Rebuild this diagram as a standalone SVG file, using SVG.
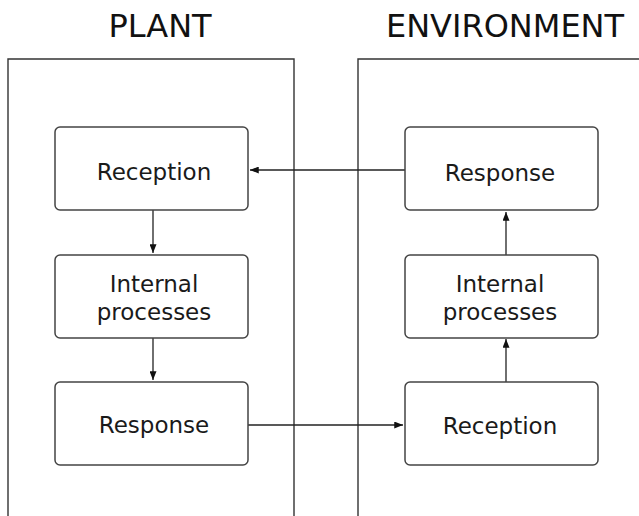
<svg xmlns="http://www.w3.org/2000/svg" width="639" height="516" viewBox="0 0 639 516">
<style>
.panel{fill:none;stroke:#333;stroke-width:1.4}
.box{fill:#fff;stroke:#444;stroke-width:1.5}
.t{font-family:"DejaVu Sans",Verdana,sans-serif;font-size:23px;fill:#1a1a1a;text-anchor:middle}
.h{font-family:"DejaVu Sans",Verdana,sans-serif;font-size:32px;fill:#111;text-anchor:middle}
.c{fill:none;stroke:#222;stroke-width:1.3}
</style>
<defs>
<marker id="ah" viewBox="0 0 10 8" refX="10" refY="4" markerWidth="9" markerHeight="7" markerUnits="userSpaceOnUse" orient="auto">
<path d="M0,0 L10,4 L0,8 Z" fill="#111"/>
</marker>
</defs>
<rect width="639" height="516" fill="#fff"/>
<g id="plant-panel">
<text class="h" x="160" y="37">PLANT</text>
<path class="panel" d="M8,520 V59 H294 V520"/>
</g>
<g id="environment-panel">
<text class="h" x="505" y="37">ENVIRONMENT</text>
<path class="panel" d="M358,520 V59 H645"/>
</g>
<g id="connectors">
<line class="c" x1="405" y1="170" x2="250" y2="170" marker-end="url(#ah)"/>
<line class="c" x1="248" y1="425" x2="403" y2="425" marker-end="url(#ah)"/>
<line class="c" x1="153" y1="210" x2="153" y2="253" marker-end="url(#ah)"/>
<line class="c" x1="153" y1="337" x2="153" y2="380" marker-end="url(#ah)"/>
<line class="c" x1="506" y1="382" x2="506" y2="339" marker-end="url(#ah)"/>
<line class="c" x1="506" y1="255" x2="506" y2="212" marker-end="url(#ah)"/>
</g>
<g id="plant-reception">
<rect class="box" x="55" y="127" width="193" height="83" rx="5"/>
<text class="t" x="154" y="180">Reception</text>
</g>
<g id="plant-internal">
<rect class="box" x="55" y="255" width="193" height="83" rx="5"/>
<text class="t" x="154" y="292">Internal</text>
<text class="t" x="154" y="320">processes</text>
</g>
<g id="plant-response">
<rect class="box" x="55" y="382" width="193" height="83" rx="5"/>
<text class="t" x="154" y="433">Response</text>
</g>
<g id="env-response">
<rect class="box" x="405" y="127" width="193" height="83" rx="5"/>
<text class="t" x="500" y="181">Response</text>
</g>
<g id="env-internal">
<rect class="box" x="405" y="255" width="193" height="83" rx="5"/>
<text class="t" x="500" y="292">Internal</text>
<text class="t" x="500" y="320">processes</text>
</g>
<g id="env-reception">
<rect class="box" x="405" y="382" width="193" height="83" rx="5"/>
<text class="t" x="500" y="434">Reception</text>
</g>
</svg>
